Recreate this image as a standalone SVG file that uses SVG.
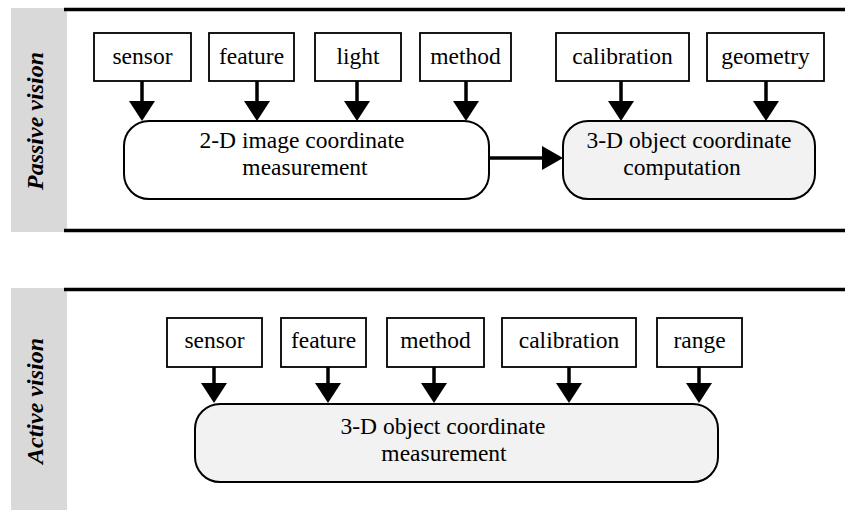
<svg xmlns="http://www.w3.org/2000/svg" width="845" height="510" viewBox="0 0 845 510">
<defs>
<style>
.band{fill:#d9d9d9}
.rule{stroke:#000;stroke-width:3.5}
.box{fill:#fff;stroke:#000;stroke-width:1.8}
.proc{stroke:#000;stroke-width:2}
.white{fill:#fff}
.grey{fill:#f2f2f2}
.t{font-family:'Liberation Serif',Tinos,'Times New Roman',Times,'DejaVu Serif',serif;font-size:23.5px;fill:#000;text-anchor:middle}
.side{font-family:'Liberation Serif',Tinos,'Times New Roman',Times,'DejaVu Serif',serif;font-size:24px;font-weight:bold;font-style:italic;fill:#000;text-anchor:middle}
.conn{stroke:#000;stroke-width:3.5;fill:none}
</style>
<marker id="ah" markerUnits="userSpaceOnUse" markerWidth="20" markerHeight="26" refX="0" refY="13" orient="auto" viewBox="0 0 20 26">
<path d="M0,0 L20,13 L0,26 Z" fill="#000"/>
</marker>
<marker id="ahh" markerUnits="userSpaceOnUse" markerWidth="21" markerHeight="24" refX="0" refY="12" orient="auto" viewBox="0 0 21 24">
<path d="M0,0 L21,12 L0,24 Z" fill="#000"/>
</marker>
</defs>
<rect width="845" height="510" fill="#fff"/>

<g font-family="Liberation Serif, Tinos, Times New Roman, DejaVu Serif, serif">
<g id="panel-passive">
<rect class="band" x="11" y="8" width="56" height="224"/>
<line class="rule" x1="64" y1="9.5" x2="845" y2="9.5"/>
<line class="rule" x1="64" y1="230.5" x2="845" y2="230.5"/>
<text class="side" font-family="Liberation Serif, serif" transform="translate(43,121) rotate(-90)">Passive vision</text>
</g>

<g id="panel-active">
<rect class="band" x="11" y="288" width="56" height="222"/>
<line class="rule" x1="64" y1="289.5" x2="845" y2="289.5"/>
<text class="side" font-family="Liberation Serif, serif" transform="translate(43,401) rotate(-90)">Active vision</text>
</g>

<g id="p-sensor"><rect class="box" x="94" y="33" width="97" height="48"/><text class="t" font-family="Liberation Serif, serif" x="142.5" y="63.5">sensor</text></g>
<g id="p-feature"><rect class="box" x="209" y="33" width="85" height="48"/><text class="t" font-family="Liberation Serif, serif" x="251.5" y="63.5">feature</text></g>
<g id="p-light"><rect class="box" x="315" y="33" width="86" height="48"/><text class="t" font-family="Liberation Serif, serif" x="358" y="63.5">light</text></g>
<g id="p-method"><rect class="box" x="420" y="33" width="91" height="48"/><text class="t" font-family="Liberation Serif, serif" x="465.5" y="63.5">method</text></g>
<g id="p-calibration"><rect class="box" x="556" y="33" width="133" height="48"/><text class="t" font-family="Liberation Serif, serif" x="622.5" y="63.5">calibration</text></g>
<g id="p-geometry"><rect class="box" x="707" y="33" width="117" height="48"/><text class="t" font-family="Liberation Serif, serif" x="765.5" y="63.5">geometry</text></g>

<g id="p-2d"><rect class="proc white" x="124" y="121" width="365" height="78" rx="25" ry="25"/>
<text class="t" font-family="Liberation Serif, serif" x="302" y="148">2-D image coordinate</text><text class="t" font-family="Liberation Serif, serif" x="305" y="175">measurement</text></g>
<g id="p-3d"><rect class="proc grey" x="563" y="121" width="252" height="78" rx="25" ry="25"/>
<text class="t" font-family="Liberation Serif, serif" x="689" y="148">3-D object coordinate</text><text class="t" font-family="Liberation Serif, serif" x="682" y="175">computation</text></g>

<g id="a-sensor"><rect class="box" x="167" y="318" width="95" height="49"/><text class="t" font-family="Liberation Serif, serif" x="214.5" y="348">sensor</text></g>
<g id="a-feature"><rect class="box" x="281" y="318" width="85" height="49"/><text class="t" font-family="Liberation Serif, serif" x="323.5" y="348">feature</text></g>
<g id="a-method"><rect class="box" x="387" y="318" width="97" height="49"/><text class="t" font-family="Liberation Serif, serif" x="435.5" y="348">method</text></g>
<g id="a-calibration"><rect class="box" x="502" y="318" width="134" height="49"/><text class="t" font-family="Liberation Serif, serif" x="569" y="348">calibration</text></g>
<g id="a-range"><rect class="box" x="657" y="318" width="85" height="49"/><text class="t" font-family="Liberation Serif, serif" x="699.5" y="348">range</text></g>

<g id="a-3d"><rect class="proc grey" x="195" y="404" width="523" height="78" rx="25" ry="25"/>
<text class="t" font-family="Liberation Serif, serif" x="443" y="434">3-D object coordinate</text><text class="t" font-family="Liberation Serif, serif" x="444" y="461">measurement</text></g>
</g>

<g id="connectors">
<line class="conn" x1="142" y1="81" x2="142" y2="101" marker-end="url(#ah)"/>
<line class="conn" x1="257" y1="81" x2="257" y2="101" marker-end="url(#ah)"/>
<line class="conn" x1="357" y1="81" x2="357" y2="101" marker-end="url(#ah)"/>
<line class="conn" x1="466" y1="81" x2="466" y2="101" marker-end="url(#ah)"/>
<line class="conn" x1="621" y1="81" x2="621" y2="101" marker-end="url(#ah)"/>
<line class="conn" x1="766" y1="81" x2="766" y2="101" marker-end="url(#ah)"/>
<line class="conn" x1="489" y1="158" x2="542" y2="158" marker-end="url(#ahh)"/>
<line class="conn" x1="214" y1="367" x2="214" y2="383" marker-end="url(#ah)"/>
<line class="conn" x1="328" y1="367" x2="328" y2="383" marker-end="url(#ah)"/>
<line class="conn" x1="434" y1="367" x2="434" y2="383" marker-end="url(#ah)"/>
<line class="conn" x1="569" y1="367" x2="569" y2="383" marker-end="url(#ah)"/>
<line class="conn" x1="699" y1="367" x2="699" y2="383" marker-end="url(#ah)"/>
</g>
</svg>
